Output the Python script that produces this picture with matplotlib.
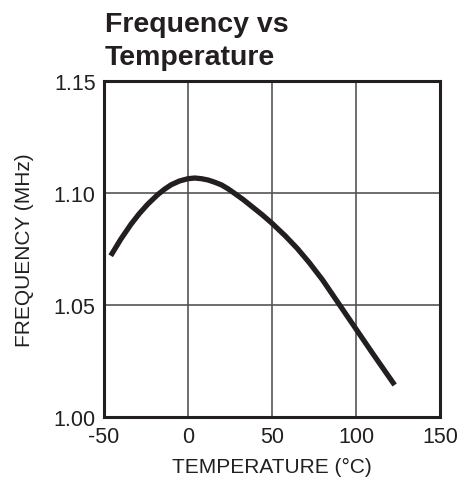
import numpy as np
import matplotlib.pyplot as plt

plt.rcParams['font.family'] = ['Liberation Sans', 'DejaVu Sans']

# data
temp_c = [-46, -40, -34, -29, -24, -18, -14, -10, -5, 0, 4, 8, 12, 16, 20, 24,
          28, 33, 38, 44, 50, 58, 65, 72, 80, 90, 100, 110, 123]
freq_mhz = [1.0722, 1.0796, 1.0862, 1.0910, 1.0952, 1.0995, 1.1019, 1.1039, 1.1056,
            1.1066, 1.1069, 1.1066, 1.1060, 1.1050, 1.1038, 1.1020, 1.0999, 1.0972,
            1.0942, 1.0906, 1.0867, 1.0810, 1.0755, 1.0693, 1.0615, 1.0505, 1.0395,
            1.0285, 1.0145]

x_ticks = [-50, 0, 50, 100, 150]
y_ticks = [1.00, 1.05, 1.10, 1.15]

fig = plt.figure(figsize=(4.59, 4.81), dpi=100)
ax = fig.add_axes([0.2266, 0.130, 0.732, 0.6985])

ax.plot(temp_c, freq_mhz, color='#231f20', linewidth=3.8, solid_capstyle='butt',
        solid_joinstyle='round')

ax.set_xlim(-50, 150)
ax.set_ylim(1.00, 1.15)
ax.set_xticks(x_ticks)
ax.set_yticks(y_ticks)
ax.set_xticklabels([str(t) for t in x_ticks])
ax.set_yticklabels([f'{t:.2f}' for t in y_ticks])
ax.tick_params(length=0, labelsize=15.5, colors='#231f20', pad=6)
ax.grid(True, color='#555555', linewidth=1.2)
ax.set_axisbelow(True)
for s in ax.spines.values():
    s.set_linewidth(2.2)
    s.set_color('#231f20')

ax.set_xlabel('TEMPERATURE (°C)', fontsize=15, color='#231f20', labelpad=7)
ax.set_ylabel('FREQUENCY (MHz)', fontsize=15, color='#231f20', labelpad=14)

# title, two lines
fig.text(0.229, 0.9335, 'Frequency vs', fontsize=20.5, fontweight='bold',
         color='#231f20', ha='left', va='baseline')
fig.text(0.229, 0.8649, 'Temperature', fontsize=20.5, fontweight='bold',
         color='#231f20', ha='left', va='baseline')

fig.savefig('out.png', dpi=100)
